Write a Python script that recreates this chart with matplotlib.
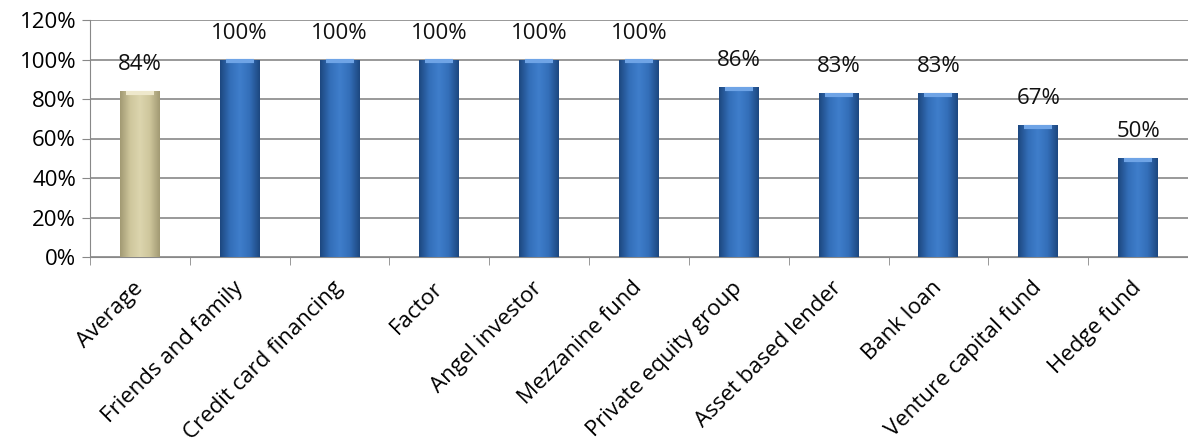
import matplotlib.pyplot as plt
import numpy as np
from matplotlib.colors import LinearSegmentedColormap

plt.rcParams['font.family'] = ['Open Sans', 'DejaVu Sans']

# dati
categorie = ["Average", "Friends and family", "Credit card financing", "Factor",
             "Angel investor", "Mezzanine fund", "Private equity group",
             "Asset based lender", "Bank loan", "Venture capital fund", "Hedge fund"]
valori = [84, 100, 100, 100, 100, 100, 86, 83, 83, 67, 50]
etichette = ["84%", "100%", "100%", "100%", "100%", "100%", "86%", "83%", "83%", "67%", "50%"]

fig = plt.figure(figsize=(11.88, 4.46), dpi=100)
ax = fig.add_axes([90 / 1188, 1 - 257 / 446, 1 - 90 / 1188, 237 / 446])

x = np.arange(len(categorie))
larghezza = 0.4

cmap_blu = LinearSegmentedColormap.from_list("blu", ["#1d4880", "#336eb8", "#3f7ecb", "#336eb8", "#1d4880"])
cmap_oro = LinearSegmentedColormap.from_list("oro", ["#a29a74", "#cec69c", "#dcd5ae", "#cec69c", "#a29a74"])
grad = np.linspace(0, 1, 64).reshape(1, -1)

bars = ax.bar(x, valori, width=larghezza, color="none", zorder=3)
for i, b in enumerate(bars):
    cm = cmap_oro if i == 0 else cmap_blu
    x0, w, h = b.get_x(), b.get_width(), b.get_height()
    im = ax.imshow(grad, cmap=cm, aspect="auto", extent=(x0, x0 + w, 0, h), zorder=3)
    im.set_clip_path(b)
    # leggero bordo superiore chiaro
    ax.plot([x0 + w * 0.15, x0 + w * 0.85], [h - 1, h - 1],
            color="#6fa4e6" if i else "#eee8cc", lw=3, zorder=4, solid_capstyle="butt")
    ax.text(b.get_x() + w / 2, h + 8, etichette[i], ha="center", va="bottom",
            fontsize=16, color="#111111", zorder=5)

ax.set_xlim(-0.5, len(categorie) - 0.5)
ax.set_ylim(0, 120)
ax.set_yticks(np.arange(0, 121, 20))
ax.set_yticklabels([f"{v}%" for v in range(0, 121, 20)], fontsize=16)
ax.set_xticks(x)
ax.set_xticklabels(categorie, rotation=45, ha="right", va="center",
                   rotation_mode="anchor", fontsize=16)
ax.set_xticks(np.arange(-0.5, len(categorie), 1), minor=True)
ax.tick_params(axis="x", which="major", length=0, pad=20)
ax.tick_params(axis="x", which="minor", length=6, color="#888888")
ax.tick_params(axis="y", length=6, color="#888888", pad=4)

ax.grid(axis="y", color="#888888", lw=1.2, zorder=0)
ax.set_axisbelow(True)
for s in ["top", "right"]:
    ax.spines[s].set_visible(False)
ax.spines["left"].set_color("#888888")
ax.spines["bottom"].set_color("#888888")

fig.savefig("out.png", dpi=100)
